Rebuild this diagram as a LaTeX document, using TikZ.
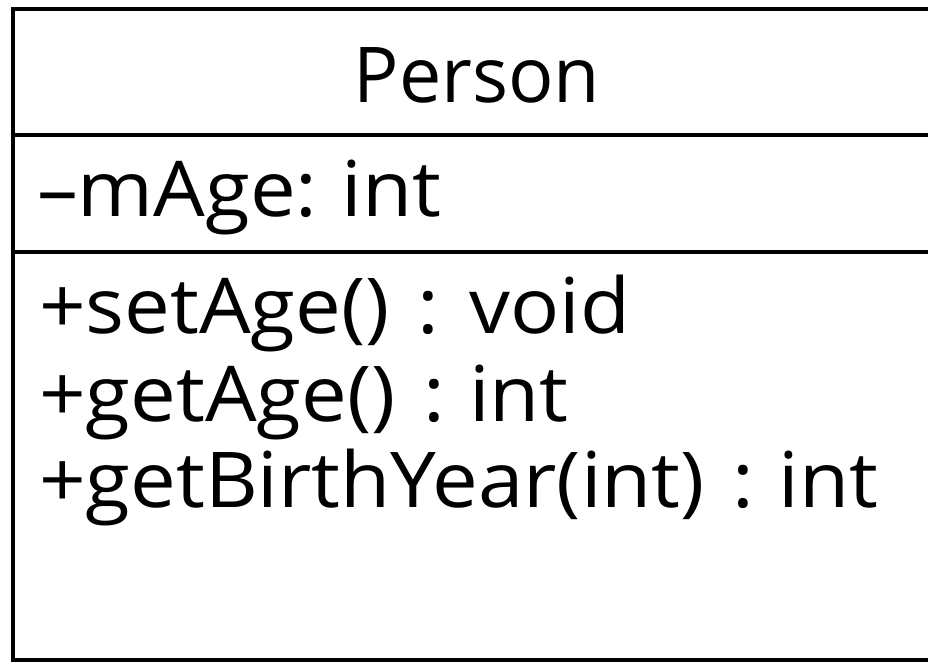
\documentclass[tikz,border=0pt]{standalone}
\usepackage{fontspec}
\setmainfont[FakeStretch=0.98]{Open Sans}
\newfontfamily\memberfamily[FakeStretch=1.06]{Open Sans}
\newcommand\umlfont{\fontsize{77}{86}\selectfont}
\newcommand\memfont{\memberfamily\fontsize{77}{86}\selectfont}
\newcommand\bsp{\hspace{28pt}}
\newcommand\asp{\hspace{24pt}}
\begin{document}
\begin{tikzpicture}[x=1pt,y=1pt,
  umltext/.style={inner sep=0pt,outer sep=0pt,font=\umlfont},
  memtext/.style={inner sep=0pt,outer sep=0pt,font=\memfont},
  umlline/.style={line width=3.5pt,black}]
\useasboundingbox (0,0) rectangle (928,662);
\clip (0,0) rectangle (928,662);
\fill[white] (0,0) rectangle (928,662);
% class box (y measured from top: 9, 135, 252, 660)
\coordinate (tl) at (13,653);
\coordinate (br) at (960,2);
\coordinate (s1l) at (13,527);
\coordinate (s1r) at (960,527);
\coordinate (s2l) at (13,410);
\coordinate (s2r) at (960,410);
\draw[umlline] (tl) rectangle (br);
\draw[umlline] (s1l) -- (s1r);
\draw[umlline] (s2l) -- (s2r);
% texts
\node[umltext,anchor=base] (name) at (477,559) {Person};
\node[memtext,anchor=base west] (attr) at (37,445) {–mAge:\asp int};
\node[memtext,anchor=base west] (m1) at (39,328) {+setAge()\bsp:\hspace{30pt}void};
\node[memtext,anchor=base west] (m2) at (39,241) {+getAge()\bsp:\asp int};
\node[memtext,anchor=base west] (m3) at (39,155) {+getBirthYear(int)\bsp:\asp int};
\end{tikzpicture}
\end{document}
